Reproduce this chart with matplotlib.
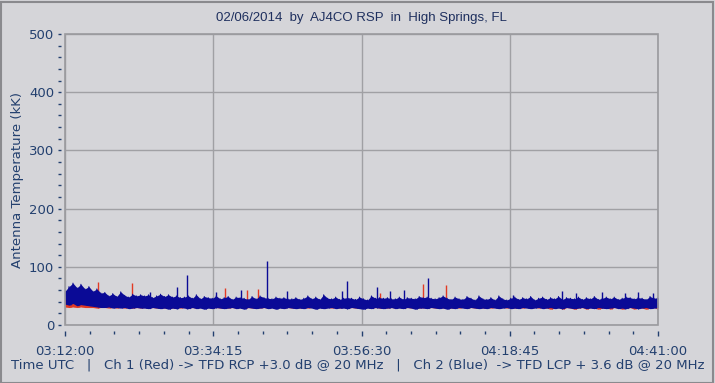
import numpy as np
import matplotlib
matplotlib.use("Agg")
import matplotlib.pyplot as plt
from matplotlib.ticker import FixedLocator, MultipleLocator, FuncFormatter
from matplotlib.patches import Rectangle

# time axis (seconds of day, UTC)
t_start = 11520   # 03:12:00
t_end = 16860     # 04:41:00
x_ticks = [11520, 12855, 14190, 15525, 16860]

# Ch 2 (Blue) noise band, upper / lower edge, kK
blue_hi = [58, 66, 72, 64, 70, 62, 66, 58, 62, 55,
           56, 50, 54, 49, 57, 51, 48, 53, 50, 52,
           50, 52, 47, 50, 53, 49, 52, 48, 50, 47,
           48, 50, 46, 52, 45, 49, 47, 46, 50, 45,
           47, 49, 44, 48, 47, 46, 44, 49, 45, 50,
           47, 46, 45, 48, 46, 47, 45, 45, 47, 44,
           46, 50, 45, 48, 44, 52, 46, 45, 48, 44,
           46, 47, 46, 44, 48, 45, 43, 50, 46, 47,
           46, 47, 45, 45, 48, 44, 47, 46, 45, 49,
           47, 48, 46, 45, 47, 50, 46, 44, 48, 45,
           44, 49, 46, 43, 50, 45, 44, 47, 43, 50,
           45, 43, 46, 48, 44, 47, 45, 49, 43, 46,
           48, 44, 47, 45, 49, 44, 47, 46, 45, 48,
           44, 47, 45, 49, 44, 46, 48, 45, 48, 44,
           46, 48, 47, 45, 47, 46, 44, 49, 46, 47]
blue_lo = [36, 34, 37, 33, 35, 34, 33, 32, 31, 30,
           30, 31, 29, 30, 29, 30, 28, 29, 30, 29,
           29, 28, 30, 29, 28, 29, 27, 29, 28, 30,
           29, 28, 30, 28, 29, 27, 29, 28, 30, 29,
           28, 29, 30, 28, 29, 27, 30, 29, 28, 29,
           30, 28, 29, 27, 29, 28, 30, 29, 28, 29,
           28, 30, 29, 27, 29, 28, 29, 30, 28, 29,
           29, 28, 30, 29, 28, 27, 29, 28, 30, 29,
           28, 29, 30, 28, 29, 28, 30, 29, 27, 29,
           29, 28, 30, 29, 28, 29, 27, 29, 28, 30,
           29, 28, 30, 29, 28, 29, 28, 30, 29, 28,
           29, 30, 28, 29, 28, 30, 29, 28, 29, 30,
           28, 29, 30, 28, 29, 28, 30, 29, 28, 29,
           30, 28, 29, 28, 30, 29, 28, 29, 30, 28,
           29, 28, 30, 29, 28, 29, 30, 28, 29, 30]
# isolated blue spikes (time in s of day, peak kK)
blue_spike_t = [12285, 12529, 12619, 12880, 13105, 13339, 13519, 14014, 14059, 14330,
                14447, 14573, 14789, 15554, 15995, 16121, 16356, 16563, 16680, 16815]
blue_spike_v = [57, 65, 86, 57, 60, 110, 58, 58, 76, 65,
                58, 60, 81, 52, 58, 55, 57, 55, 57, 55]

# Ch 1 (Red) noise band, upper / lower edge, kK
red_hi = [46, 50, 48, 44, 46, 42, 44, 42, 45, 40,
          40, 38, 42, 39, 40, 38, 41, 40, 39, 40,
          38, 40, 37, 39, 38, 40, 37, 39, 38, 40,
          38, 40, 37, 39, 38, 40, 37, 39, 38, 40,
          41, 39, 38, 40, 37, 39, 41, 38, 40, 42,
          38, 40, 37, 39, 38, 40, 37, 39, 38, 40,
          38, 39, 37, 40, 38, 39, 37, 40, 38, 39,
          38, 40, 37, 39, 38, 40, 37, 39, 38, 40,
          40, 39, 38, 40, 37, 39, 38, 40, 37, 39,
          38, 41, 39, 38, 40, 37, 41, 39, 38, 40,
          38, 39, 37, 40, 38, 39, 37, 40, 38, 39,
          38, 40, 37, 39, 38, 40, 37, 39, 38, 40,
          38, 39, 37, 40, 38, 39, 37, 40, 38, 39,
          38, 40, 37, 39, 38, 40, 37, 39, 38, 40,
          38, 39, 37, 40, 38, 39, 37, 40, 38, 39]
red_lo = [31, 30, 31, 30, 31, 30, 30, 30, 29, 30,
          30, 29, 30, 29, 30, 29, 30, 29, 30, 29,
          30, 29, 30, 29, 30, 29, 30, 29, 30, 29,
          30, 29, 30, 29, 30, 29, 30, 29, 30, 29,
          30, 29, 30, 29, 30, 29, 30, 29, 30, 29,
          30, 29, 30, 29, 30, 29, 30, 29, 30, 29,
          30, 29, 30, 29, 30, 29, 30, 29, 30, 29,
          30, 29, 30, 29, 30, 29, 30, 29, 30, 29,
          30, 29, 30, 29, 30, 29, 30, 29, 30, 29,
          30, 29, 30, 29, 30, 29, 30, 29, 30, 29,
          30, 29, 30, 29, 30, 29, 30, 29, 30, 29,
          30, 29, 30, 29, 30, 29, 30, 29, 30, 29,
          30, 29, 27, 29, 30, 27, 30, 29, 27, 29,
          30, 27, 30, 29, 27, 29, 30, 27, 30, 29,
          27, 29, 30, 27, 30, 29, 27, 29, 30, 27]
red_spike_t = [11817, 12123, 12961, 13159, 13258, 14357, 14744, 14951]
red_spike_v = [74, 72, 63, 60, 62, 55, 70, 69]

BG = "#d5d5d9"
TXT = "#23406f"
GRID = "#a0a0a4"
RED = "#e23a24"
BLUE = "#0a0a96"


def fmt_time(v, pos):
    s = int(round(v))
    return f"{s // 3600:02d}:{(s % 3600) // 60:02d}:{s % 60:02d}"


def draw_channel(ax, hi, lo, spike_t, spike_v, color, z):
    n = len(hi)
    t = np.linspace(t_start, t_end, n)
    dt = (t_end - t_start) / (n - 1)
    ax.fill_between(t, lo, hi, color=color, lw=0, zorder=z)
    # jagged trace along the band: alternate upper and lower edge
    xs, ys = [], []
    for i in range(n):
        xs += [t[i], min(t[i] + dt / 2, t_end)]
        ys += [hi[i], lo[i]]
    ax.plot(xs, ys, color=color, lw=0.7, zorder=z)
    base = np.interp(spike_t, t, lo)
    ax.vlines(spike_t, base, spike_v, color=color, lw=1.0, zorder=z)


fig = plt.figure(figsize=(7.15, 3.83), dpi=100, facecolor=BG)
ax = fig.add_axes([65 / 715, 58 / 383, 593 / 715, 291 / 383])
ax.set_facecolor(BG)

draw_channel(ax, red_hi, red_lo, red_spike_t, red_spike_v, RED, 3)
draw_channel(ax, blue_hi, blue_lo, blue_spike_t, blue_spike_v, BLUE, 4)

ax.set_xlim(t_start, t_end)
ax.set_ylim(0, 500)

# 6 subdivisions between labelled times
minor_x = np.linspace(t_start, t_end, 4 * 6 + 1)
ax.xaxis.set_major_locator(FixedLocator(x_ticks))
ax.xaxis.set_minor_locator(FixedLocator(minor_x))
ax.xaxis.set_major_formatter(FuncFormatter(fmt_time))
ax.yaxis.set_major_locator(MultipleLocator(100))
ax.yaxis.set_minor_locator(MultipleLocator(20))

ax.grid(True, which="major", color=GRID, lw=1.0, zorder=1)

for side in ["top", "right"]:
    ax.spines[side].set_visible(False)
ax.spines["left"].set_position(("outward", 2.9))
ax.spines["bottom"].set_position(("outward", 4.3))
ax.spines["left"].set_color("none")
ax.spines["bottom"].set_color("none")

# plot frame
ax.add_patch(Rectangle((0, 0), 1, 1, transform=ax.transAxes, fill=False,
                       edgecolor="#9a9a9e", lw=1.2, clip_on=False, zorder=5))

ax.tick_params(axis="x", which="major", length=3.6, width=1, color=TXT,
               pad=6.5, labelsize=9.5, labelcolor=TXT)
ax.tick_params(axis="x", which="minor", length=1.8, width=1, color=TXT)
ax.tick_params(axis="y", which="major", length=2, width=1, color=TXT,
               pad=2.9, labelsize=9.5, labelcolor=TXT)
ax.tick_params(axis="y", which="minor", length=2.2, width=1, color=TXT)

fig.text(18 / 715, 1 - 180 / 383, "Antenna Temperature (kK)", rotation=90,
         ha="center", va="center", fontsize=9.5, color=TXT)

fig.text(361 / 715, 1 - 18 / 383, "02/06/2014  by  AJ4CO RSP  in  High Springs, FL",
         ha="center", va="center", fontsize=9.5, color="#1e2f5e",
         family="Liberation Sans")

fig.text(11 / 715, 1 - 365 / 383,
         "Time UTC   |   Ch 1 (Red) -> TFD RCP +3.0 dB @ 20 MHz   |   "
         "Ch 2 (Blue)  -> TFD LCP + 3.6 dB @ 20 MHz",
         ha="left", va="center", fontsize=9.55, color=TXT)

# outer window border
fig.add_artist(Rectangle((0.5 / 715, 0.5 / 383), 712 / 715, 381 / 383,
                         transform=fig.transFigure, fill=False,
                         edgecolor="#8a8a8e", lw=1.5))

fig.savefig("out.png", dpi=100, facecolor=BG)
